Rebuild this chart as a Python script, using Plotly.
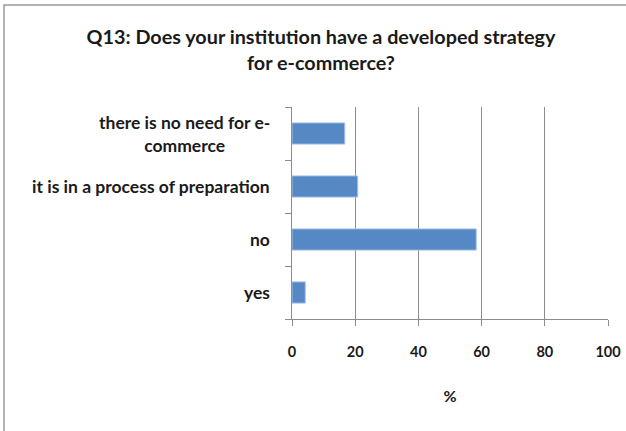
import plotly.graph_objects as go

# Survey answers (bottom to top) and share of respondents in %
categories = ["yes", "no", "it is in a process of preparation", "there is no need for e-commerce"]
category_labels = ["yes", "no", "it is in a process of preparation", "there is no need for e-<br>commerce"]
percent = [4.2, 58.3, 20.8, 16.7]
x_ticks = [0, 20, 40, 60, 80, 100]

W, H = 626, 431
L, R, T, B = 292, 18, 107, 112
pw, ph = W - L - R, H - T - B

FONT = "Lato"
GRAY = "#8c8c8c"
TEXT = "#1a1a1a"

fig = go.Figure(
    go.Bar(
        x=percent,
        y=categories,
        orientation="h",
        marker=dict(color="#5588c4", line=dict(color="#a9c4e6", width=1)),
        width=0.4,
        hoverinfo="x+y",
    )
)

# Category labels, centred line by line and right-aligned against the axis
annotations = [
    dict(
        x=-20 / pw, xref="paper", y=cat, yref="y",
        text=f"<b>{lab}</b>", showarrow=False, xanchor="right", yanchor="middle",
        align="center", font=dict(family=FONT, size=17.5, color=TEXT),
    )
    for cat, lab in zip(categories, category_labels)
]

fig.update_layout(
    width=W, height=H,
    margin=dict(l=L, r=R, t=T, b=B, autoexpand=False),
    paper_bgcolor="white", plot_bgcolor="white",
    showlegend=False,
    title=dict(
        text="<b>Q13: Does your institution have a developed strategy<br>for e-commerce?</b>",
        x=(321 - L) / pw, xref="paper", xanchor="center",
        y=1 - 44 / H, yref="container", yanchor="middle",
        font=dict(family=FONT, size=19.8, color=TEXT),
    ),
    xaxis=dict(
        range=[0, 100], tickvals=x_ticks, ticktext=[f"<b>{v}</b>" for v in x_ticks],
        showgrid=True, gridcolor=GRAY, gridwidth=1,
        showline=True, linecolor=GRAY, linewidth=1,
        ticks="outside", ticklen=6, tickcolor=GRAY,
        ticklabelstandoff=14, automargin=False,
        tickfont=dict(family=FONT, size=14.5, color=TEXT),
        zeroline=False, fixedrange=True,
        title=dict(text="<b>%</b>", font=dict(family=FONT, size=16, color=TEXT), standoff=31),
    ),
    yaxis=dict(
        categoryorder="array", categoryarray=categories,
        showticklabels=False, automargin=False,
        showline=True, linecolor=GRAY, linewidth=1,
        ticks="outside", ticklen=6, tickcolor=GRAY, tickson="boundaries",
        showgrid=False, zeroline=False, fixedrange=True,
    ),
    annotations=annotations,
    shapes=[
        dict(
            type="rect", xref="paper", yref="paper",
            x0=(4 - L) / pw, x1=(W + 20 - L) / pw,
            y0=-(H + 20 - T - ph) / ph, y1=1 + (T - 5) / ph,
            line=dict(color="#9a9a9a", width=1.5), fillcolor="rgba(0,0,0,0)",
            layer="below",
        )
    ],
)

fig.write_html("out.html")
